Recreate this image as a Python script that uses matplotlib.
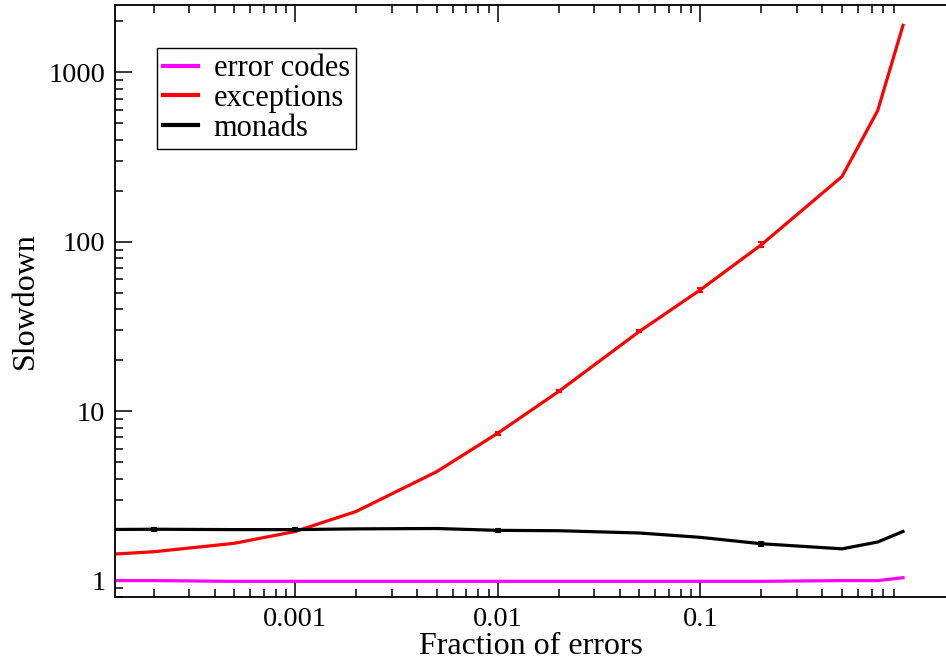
import numpy as np
import matplotlib
matplotlib.use("Agg")
import matplotlib.pyplot as plt
from matplotlib.lines import Line2D

plt.rcParams['font.family'] = ['Liberation Serif', 'DejaVu Serif']

# fraction of errors (x), slowdown (y)
fraction = [0.0001, 0.0002, 0.0005, 0.001, 0.002, 0.005, 0.01, 0.02, 0.05, 0.1, 0.2, 0.5, 0.75, 1.0]
error_codes = [1.0, 1.0, 0.99, 0.99, 0.99, 0.99, 0.99, 0.99, 0.99, 0.99, 0.99, 1.0, 1.0, 1.04]
exceptions = [1.41, 1.48, 1.66, 1.95, 2.56, 4.40, 7.42, 13.1, 29.6, 52.1, 96.1, 243, 595, 1897]
monads = [2.0, 2.01, 2.0, 2.0, 2.02, 2.03, 1.98, 1.97, 1.91, 1.80, 1.65, 1.54, 1.69, 1.95]
# small error bars (0 = none visible)
exceptions_err = [0, 0, 0, 0, 0, 0, 0.15, 0.2, 0.4, 1.5, 3.0, 0, 0, 0]
monads_err = [0, 0.04, 0, 0.04, 0, 0, 0.04, 0, 0, 0, 0.04, 0, 0, 0]

fig = plt.figure(figsize=(9.46, 6.61), dpi=100)
ax = fig.add_axes([0.1216, 0.0968, 0.8784, 0.8956])

lw = 2.3
colors = {'error codes': '#ff00ff', 'exceptions': '#ff0000', 'monads': 'black'}
ax.plot(fraction, error_codes, color=colors['error codes'], lw=lw)
ax.plot(fraction, exceptions, color=colors['exceptions'], lw=lw)
ax.plot(fraction, monads, color=colors['monads'], lw=lw)

for ys, err, c in [(exceptions, exceptions_err, colors['exceptions']),
                   (monads, monads_err, colors['monads'])]:
    xe = [x for x, e in zip(fraction, err) if e > 0]
    ye = [y for y, e in zip(ys, err) if e > 0]
    ee = [e for e in err if e > 0]
    ax.errorbar(xe, ye, yerr=ee, fmt='none', ecolor=c, elinewidth=1.5,
                capsize=2.5, capthick=1.5)

ax.set_xscale('log')
ax.set_yscale('log')
ax.set_xlim(1.29e-4, 1.63)
ax.set_ylim(0.8, 2500)

ax.set_xticks([0.001, 0.01, 0.1])
ax.set_xticklabels(['0.001', '0.01', '0.1'])
ax.set_yticks([1, 10, 100, 1000])
ax.set_yticklabels(['1', '10', '100', '1000'])

ax.tick_params(which='both', direction='in', top=True, right=False, width=1.1,
               labelsize=20.5, pad=7)
ax.tick_params(which='major', length=12)
ax.tick_params(which='minor', length=6)
ax.spines['right'].set_visible(False)
for s in ['left', 'bottom', 'top']:
    ax.spines[s].set_linewidth(1.3)

ax.set_xlabel('Fraction of errors', fontsize=23, labelpad=0)
ax.set_ylabel('Slowdown', fontsize=23, labelpad=6)

handles = [Line2D([], [], color=c, lw=3) for c in colors.values()]
leg = ax.legend(handles, list(colors.keys()), loc='upper left',
                bbox_to_anchor=(0.0505, 0.927), fontsize=22,
                frameon=True, fancybox=False, edgecolor='black', framealpha=1,
                handlelength=1.15, handletextpad=0.5, labelspacing=0.02,
                borderpad=0.2, borderaxespad=0)
leg.get_frame().set_linewidth(1.0)

fig.savefig('out.png', dpi=100)
